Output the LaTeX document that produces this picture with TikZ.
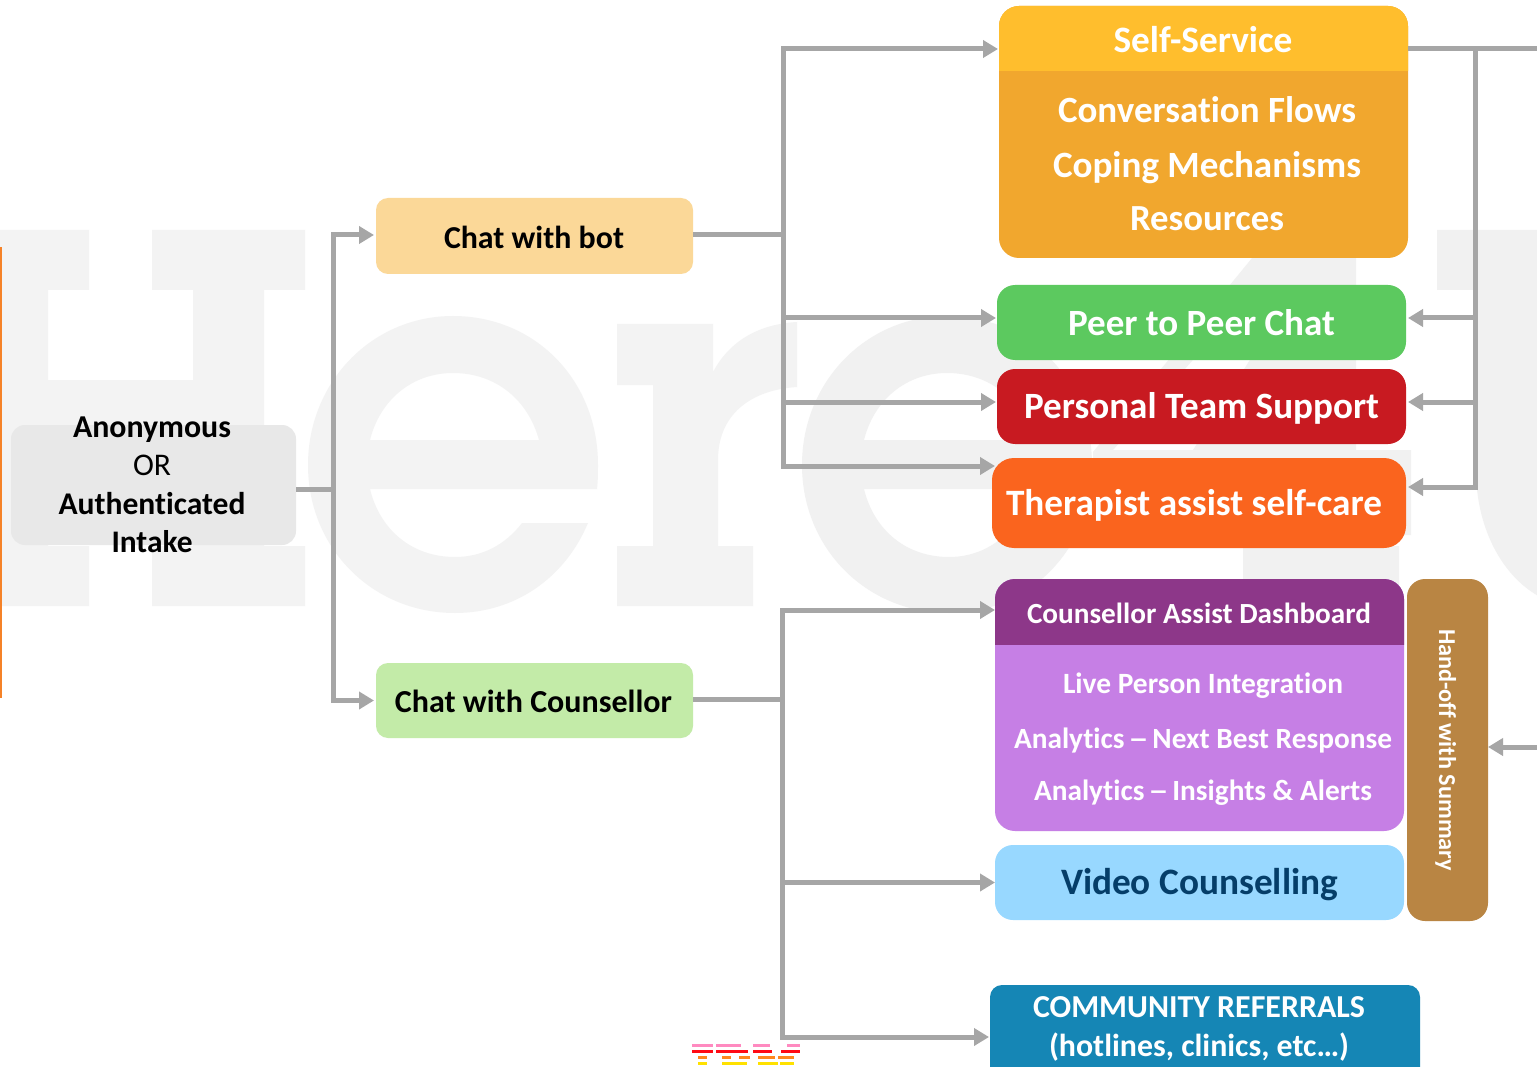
\documentclass[tikz,border=0pt]{standalone}
\usepackage{fontspec}
\usepackage{graphicx}
\setmainfont[Ligatures=NoCommon]{Carlito}
\usetikzlibrary{arrows.meta}
\definecolor{wm}{HTML}{F3F3F3}
\definecolor{wmb}{HTML}{F1F1F1}
\definecolor{conn}{HTML}{A6A6A6}
\definecolor{cintake}{HTML}{E8E8E8}
\definecolor{cbot}{RGB}{251,216,152}
\definecolor{ccc}{RGB}{195,235,168}
\definecolor{cselfb}{RGB}{241,167,46}
\definecolor{cselfh}{RGB}{255,190,45}
\definecolor{cpeer}{RGB}{92,201,95}
\definecolor{cpers}{RGB}{200,26,33}
\definecolor{cther}{RGB}{250,100,30}
\definecolor{ccoub}{RGB}{198,127,229}
\definecolor{ccouh}{RGB}{141,55,137}
\definecolor{cvid}{RGB}{152,216,255}
\definecolor{cvidt}{RGB}{5,62,105}
\definecolor{chand}{RGB}{185,133,67}
\definecolor{ccom}{RGB}{21,134,181}
\definecolor{cedge}{RGB}{245,130,40}
\definecolor{lpink}{RGB}{255,138,192}
\definecolor{lred}{RGB}{255,10,20}
\definecolor{lorange}{RGB}{255,135,30}
\definecolor{lyellow}{RGB}{255,225,0}
\newcommand{\fitb}[2]{\resizebox{#1pt}{!}{\bfseries\fontsize{40}{48}\selectfont #2}}
\newcommand{\fitr}[2]{\resizebox{#1pt}{!}{\fontsize{40}{48}\selectfont #2}}
\newcommand{\wdash}{\hspace{-.1em}\scalebox{1.4}[1]{–}\hspace{-.1em}}
\tikzset{
  boxst/.style={rectangle,rounded corners=#1,inner sep=0pt,outer sep=0pt},
  boxst/.default=14pt,
  lab/.style={anchor=base,inner sep=0pt,outer sep=0pt,text=#1},
  lab/.default=white,
  link/.style={draw=conn,line width=5pt},
  linka/.style={draw=conn,line width=5pt,-{Triangle[length=15pt,width=17pt]}},
  stripe/.style={fill=#1,draw=none}
}
\begin{document}
\begin{tikzpicture}[x=1pt,y=-1pt]
\clip (0,0) rectangle (1537,1067);
\fill[white] (0,0) rectangle (1537,1067);
% watermark: H
\fill[wm] (-5,230) -- (89,230) -- (89,290) -- (48,290) -- (48,380) -- (193,380) -- (193,290) -- (152,290) -- (152,230) -- (305,230) -- (305,290) -- (264,290) -- (264,546) -- (305,546) -- (305,606) -- (152,606) -- (152,546) -- (193,546) -- (193,470) -- (48,470) -- (48,546) -- (89,546) -- (89,606) -- (-5,606) -- cycle;
% watermark: e (twice)
\foreach \dx/\c in {0/wm,494/wmb}{
\begin{scope}[xshift=\dx pt]
\fill[\c,even odd rule] (597,489) .. controls (598,480) and (598,472) .. (598,465)
  .. controls (598,380) and (535,316) .. (453,316)
  .. controls (372,316) and (308,382) .. (308,465)
  .. controls (308,548) and (372,613) .. (455,613)
  .. controls (515,613) and (565,578) .. (588,523)
  -- (522,523) .. controls (505,545) and (482,557) .. (455,557)
  .. controls (412,557) and (380,530) .. (370,489) -- cycle
  (370,440) .. controls (380,400) and (412,373) .. (453,373)
  .. controls (496,373) and (528,400) .. (539,440) -- cycle;
\end{scope}}
% watermark: r
\fill[wm] (617,324) -- (713,324) -- (713,372) .. controls (730,340) and (760,324) .. (797,322) -- (797,387) .. controls (750,390) and (718,415) .. (718,460) -- (718,546) -- (753,546) -- (753,606) -- (617,606) -- (617,546) -- (653,546) -- (653,385) -- (617,385) -- cycle;
% watermark: 4
\fill[wmb,even odd rule] (1275,230) -- (1356,230) -- (1356,450) -- (1411,450) -- (1411,535) -- (1356,535) -- (1356,546) -- (1399,546) -- (1399,606) -- (1243,606) -- (1243,546) -- (1287,546) -- (1287,535) -- (1093,535) -- (1093,452) -- cycle
  (1255,290) -- (1294,290) -- (1193,450) -- (1113,450) -- cycle;
% watermark: U
\fill[wmb] (1437,230) -- (1540,230) -- (1540,597) .. controls (1500,575) and (1476,525) .. (1476,470) -- (1476,290) -- (1437,290) -- cycle;
% left edge strip
\fill[cedge] (-3,247) rectangle (1.8,698);

% boxes
\node[boxst=14pt,fill=cintake,minimum width=285pt,minimum height=120pt] (intake) at (153.5,485) {};
\node[boxst=12pt,fill=cbot,minimum width=317pt,minimum height=76pt] (chatbot) at (534.5,236) {};
\node[boxst=12pt,fill=ccc,minimum width=317pt,minimum height=75pt] (chatcoun) at (534.5,700.5) {};

\node[boxst=20pt,fill=cselfb,minimum width=409pt,minimum height=252pt] (selfbody) at (1203.5,132) {};
\begin{scope}
\clip (990,0) rectangle (1420,71);
\node[boxst=20pt,fill=cselfh,minimum width=409pt,minimum height=252pt] (selfhead) at (1203.5,132) {};
\end{scope}

\node[boxst=18pt,fill=cpeer,minimum width=409pt,minimum height=75pt] (peer) at (1201.5,322.5) {};
\node[boxst=18pt,fill=cpers,minimum width=409pt,minimum height=75pt] (personal) at (1201.5,406.5) {};
\node[boxst=22pt,fill=cther,minimum width=414pt,minimum height=90pt] (therapist) at (1199,503) {};

\node[boxst=20pt,fill=ccoub,minimum width=409pt,minimum height=252pt] (coubody) at (1199.5,705) {};
\begin{scope}
\clip (990,570) rectangle (1420,644);
\node[boxst=20pt,fill=ccouh,minimum width=409pt,minimum height=252pt] (couhead) at (1199.5,705) {};
\end{scope}
\node[boxst=18pt,fill=cvid,minimum width=409pt,minimum height=75pt] (video) at (1199.5,882.5) {};
\node[boxst=18pt,fill=chand,minimum width=81pt,minimum height=342pt] (handoff) at (1447.5,750) {};
\node[boxst=12pt,fill=ccom,minimum width=430pt,minimum height=120pt] (community) at (1205,1045) {};

% free ends and junctions
\coordinate (hub) at (333,489);
\coordinate (edgeA) at (1537,49);
\coordinate (edgeB) at (1537,747);

% connectors
\draw[link] ([yshift=-4pt]intake.east) -- (335.5,489);
\draw[linka,shorten >=2pt] (333,489) |- ([yshift=1pt]chatbot.west);
\draw[linka,shorten >=2pt] (333,489) |- (chatcoun.west);
\draw[link] ([yshift=1pt]chatbot.east) -- (785.5,235);
\draw[linka,shorten >=1pt] (783,235) |- ([yshift=83pt]selfbody.west);
\draw[linka,shorten >=1pt] (783,235) |- ([yshift=4.5pt]peer.west);
\draw[linka,shorten >=1pt] (783,235) |- ([yshift=4.5pt]personal.west);
\draw[linka,shorten >=-3pt] (783,235) |- ([yshift=37pt]therapist.west);
\draw[link] ([yshift=1.5pt]chatcoun.east) -- (784.5,699);
\draw[linka,shorten >=0pt] (782,699) |- ([yshift=95pt]coubody.west);
\draw[linka,shorten >=0pt] (782,699) |- (video.west);
\draw[linka,shorten >=1pt] (782,699) |- ([yshift=8pt]community.west);
\draw[link] ([yshift=83pt]selfbody.east) -- (edgeA);
\draw[linka,shorten >=2pt] (1475,46.5) |- ([yshift=4.5pt]peer.east);
\draw[linka,shorten >=2pt] (1475,46.5) |- ([yshift=4.5pt]personal.east);
\draw[linka,shorten >=2pt] (1475,46.5) |- ([yshift=16pt]therapist.east);
\draw[linka,shorten >=0pt] (edgeB) -- (edgeB -| handoff.east);

% labels
\node[lab=white] (tSelf) at (1203,52.5) {\fitb{179}{Self-Service}};
\node[lab=white] (tFlow) at (1207,122.5) {\fitb{298}{Conversation Flows}};
\node[lab=white] (tCope) at (1207,177.5) {\fitb{308}{Coping Mechanisms}};
\node[lab=white] (tRes) at (1207,230.5) {\fitb{154}{Resources}};
\node[lab=black] (tBot) at (534,248.5) {\fitb{180}{Chat with bot}};
\node[lab=black] (tCC) at (533.5,712.5) {\fitb{277}{Chat with Counsellor}};
\node[lab=white] (tPeer) at (1201.5,335.5) {\fitb{267}{Peer to Peer Chat}};
\node[lab=white] (tPers) at (1201.5,418.5) {\fitb{355}{Personal Team Support}};
\node[lab=white] (tTher) at (1194,515) {\fitb{376}{Therapist assist self-care}};
\node[lab=white] (tCAD) at (1199,623.5) {\fitb{344}{Counsellor Assist Dashboard}};
\node[lab=white] (tLive) at (1203,693.5) {\fitb{280}{Live Person Integration}};
\node[lab=white] (tNext) at (1203,748.5) {\fitb{378}{Analytics \wdash{} Next Best Response}};
\node[lab=white] (tIns) at (1203,800.5) {\fitb{338}{Analytics \wdash{} Insights \& Alerts}};
\node[lab=cvidt] (tVid) at (1199.5,894.5) {\fitb{277}{Video Counselling}};
\node[lab=white,rotate=-90] (tHand) at (1439,750) {\fitb{242}{Hand-off with Summary}};
\node[lab=white] (tCom) at (1199,1017) {\fitb{332}{COMMUNITY REFERRALS}};
\node[lab=white] (tHot) at (1199,1056) {\fitb{300}{(hotlines, clinics, etc…)}};
\node[lab=black] (tAno) at (152,437) {\fitb{158}{Anonymous}};
\node[lab=black] (tOr) at (152,475) {\fitr{38}{OR}};
\node[lab=black] (tAuth) at (152,514) {\fitb{187}{Authenticated}};
\node[lab=black] (tInt) at (152,552) {\fitb{81}{Intake}};

% cropped logo stripes
\foreach \a/\b in {692/713,716/741,753/770,787/800}{\fill[stripe=lpink] (\a,1044) rectangle (\b,1047.3);}
\foreach \a/\b in {692/713,716/748,753/772,781/800}{\fill[stripe=lred] (\a,1050) rectangle (\b,1053.3);}
\foreach \a/\b in {698/707,722/731,739/750,758/775,778/794}{\fill[stripe=lorange] (\a,1056) rectangle (\b,1059.3);}
\foreach \a/\b in {698/707,722/747,758/778,780/794}{\fill[stripe=lyellow] (\a,1062) rectangle (\b,1065.3);}
\end{tikzpicture}
\end{document}
